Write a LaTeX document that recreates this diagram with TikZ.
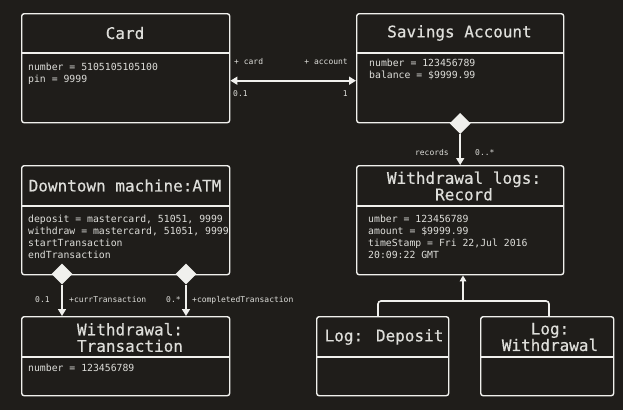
\documentclass[tikz,border=0pt]{standalone}
\usepackage{fontspec}
\setmonofont{DejaVu Sans Mono}
\newfontfamily\umltitlefont[FakeBold=0.4]{DejaVu Sans Mono}
\usetikzlibrary{arrows.meta,shapes.geometric}
\definecolor{bg}{RGB}{31,29,26}
\definecolor{fg}{RGB}{240,240,237}
\definecolor{txt}{RGB}{222,222,218}
\tikzset{
  umlbox/.style={draw=fg, line width=1.4pt, rounded corners=2.5pt, anchor=north west, inner sep=0pt},
  sepline/.style={draw=fg, line width=1.4pt},
  title/.style={text=txt, font=\umltitlefont\fontsize{16}{16.5}\selectfont, align=center, inner sep=0pt},
  attr/.style={text=txt, font=\ttfamily\fontsize{9.8}{11.8}\selectfont, align=left, anchor=north west, inner sep=0pt},
  lbl/.style={text=txt, font=\ttfamily\fontsize{8}{9}\selectfont, inner sep=0pt},
  conn/.style={draw=fg, line width=1.6pt},
  tip/.style={-{Triangle[length=7pt,width=8pt]}},
  dia/.style={diamond, fill=fg, inner sep=0pt, minimum width=21pt, minimum height=21pt}
}
\begin{document}
\begin{tikzpicture}[x=1pt,y=-1pt]
\fill[bg] (0,0) rectangle (623,410);
\useasboundingbox (0,0) rectangle (623,410);

% boxes
\node[umlbox, minimum width=208pt, minimum height=109pt] (card) at (21,13) {};
\node[umlbox, minimum width=207pt, minimum height=109pt] (sa) at (356,13) {};
\node[umlbox, minimum width=208pt, minimum height=109pt] (atm) at (21,165) {};
\node[umlbox, minimum width=207pt, minimum height=109pt] (rec) at (356,165) {};
\node[umlbox, minimum width=208pt, minimum height=79pt] (trans) at (21,316) {};
\node[umlbox, minimum width=132pt, minimum height=79pt] (ldep) at (316,316) {};
\node[umlbox, minimum width=133pt, minimum height=79pt] (lwd) at (480,316) {};

% dividers
\coordinate (cards) at (21,53);
\coordinate (sas) at (356,53);
\coordinate (atms) at (21,206);
\coordinate (recs) at (356,206);
\coordinate (transs) at (21,357);
\coordinate (ldeps) at (316,357);
\coordinate (lwds) at (480,357);
\draw[sepline] (cards) -- (cards -| card.east);
\draw[sepline] (sas) -- (sas -| sa.east);
\draw[sepline] (atms) -- (atms -| atm.east);
\draw[sepline] (recs) -- (recs -| rec.east);
\draw[sepline] (transs) -- (transs -| trans.east);
\draw[sepline] (ldeps) -- (ldeps -| ldep.east);
\draw[sepline] (lwds) -- (lwds -| lwd.east);

% titles
\node[title] (cardt) at (125,33) {Card};
\node[title] (sat) at (459.5,33) {Savings Account};
\node[title] (atmt) at (125,185.5) {Downtown machine:ATM};
\node[title] (rect) at (464,186) {Withdrawal logs:\\Record};
\node[title] (transt) at (130,337.5) {Withdrawal:\\Transaction};
\node[title] (ldept) at (384,337) {Log: Deposit};
\node[title] (lwdt) at (550,337) {Log:\\Withdrawal};

% attributes
\node[attr] (carda) at (28,63) {number = 5105105105100\\pin = 9999};
\node[attr] (saa) at (369,59) {number = 123456789\\balance = \$9999.99};
\node[attr] (atma) at (28,215) {deposit = mastercard, 51051, 9999\\withdraw = mastercard, 51051, 9999\\startTransaction\\endTransaction};
\node[attr] (reca) at (368,215) {umber = 123456789\\amount = \$9999.99\\timeStamp = Fri 22,Jul 2016\\20:09:22 GMT};
\node[attr] (transa) at (28,364) {number = 123456789};

% card <-> savings account
\draw[conn, {Triangle[length=7pt,width=8pt]}-{Triangle[length=7pt,width=8pt]}]
  ([yshift=-12.5pt]card.east) -- ([yshift=-12.5pt]sa.west);
\node[lbl, anchor=west] (lcard) at (234,62) {+ card};
\node[lbl, anchor=east] (lacc) at (348,62) {+ account};
\node[lbl, anchor=west] (lcm) at (233,94) {0.1};
\node[lbl, anchor=east] (lam) at (348,94) {1};

% savings account -> records
\node[dia] (sadia) at (sa.south) {};
\draw[conn, tip] (sadia.south) -- (sadia.south |- rec.north);
\node[lbl, anchor=east] (lrec) at (449,153) {records};
\node[lbl, anchor=west] (lrecm) at (475,153) {0..*};

% ATM -> transaction
\node[dia] (atmd1) at (62,274) {};
\node[dia] (atmd2) at (186,274) {};
\draw[conn, tip] (atmd1.south) -- (atmd1.south |- trans.north);
\draw[conn, tip] (atmd2.south) -- (atmd2.south |- trans.north);
\node[lbl, anchor=west] (lcm1) at (35,300) {0.1};
\node[lbl, anchor=west] (lcurr) at (69,300) {+currTransaction};
\node[lbl, anchor=west] (lcm2) at (166,300) {0.*};
\node[lbl, anchor=west] (lcomp) at (192,300) {+completedTransaction};

% inheritance
\coordinate (junc) at (463,301);
\draw[conn, rounded corners=3pt] (ldep.north -| 378,0) |- (junc) -| (lwd.north -| 549,0);
\draw[conn, -{Triangle[length=6pt,width=6.5pt]}] (junc) -- (junc |- rec.south);
\end{tikzpicture}
\end{document}
